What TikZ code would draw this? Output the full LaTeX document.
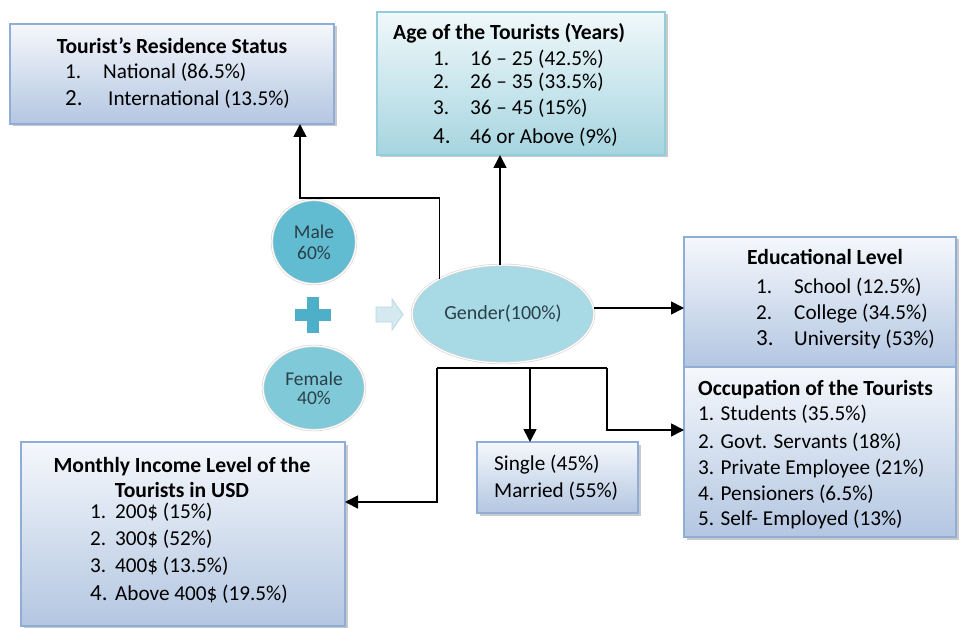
\documentclass[tikz,border=0pt]{standalone}
\usepackage{fontspec}
\setmainfont{Carlito}
\usetikzlibrary{arrows.meta,shadows,calc,shapes.geometric}
\definecolor{blueTop}{HTML}{F5F8FC}
\definecolor{blueBot}{HTML}{B3C6E1}
\definecolor{blueBorder}{HTML}{8FADD6}
\definecolor{tealTop}{HTML}{F0F8FA}
\definecolor{tealBot}{HTML}{A6D5E0}
\definecolor{tealBorder}{HTML}{92CDDC}
\definecolor{maleFill}{HTML}{62BCD1}
\definecolor{femFill}{HTML}{80C9D9}
\definecolor{genFill}{HTML}{A8DAE6}
\definecolor{plusFill}{HTML}{4DAFC8}
\definecolor{arrFill}{HTML}{D4E9F0}
\definecolor{arrDraw}{HTML}{B5D8E3}
\definecolor{circText}{HTML}{2A3F48}
\begin{document}
\begin{tikzpicture}[x=1pt,y=-1pt,
  panel/.style={draw=blueBorder, line width=1.3, top color=blueTop, bottom color=blueBot,
    anchor=north west, inner sep=0, outer sep=0,
    drop shadow={shadow xshift=2.5pt, shadow yshift=-2.5pt, fill=gray!70, opacity=0.6}},
  tealpanel/.style={panel, draw=tealBorder, top color=tealTop, bottom color=tealBot},
  txt/.style={inner sep=0, anchor=base west, font=\fontsize{21.2}{24}\selectfont},
  bignum/.style={txt, font=\fontsize{23}{24}\selectfont},
  ttl/.style={inner sep=0, anchor=base, font=\fontsize{21.6}{24}\selectfont\bfseries},
  circ/.style={circle, draw=gray!35, double=white, double distance=1.2pt, line width=0.6,
    inner sep=0, outer sep=0, text=circText, align=center, font=\fontsize{19.5}{21}\selectfont},
  line/.style={draw=black, line width=1.6},
  conn/.style={line, -{Triangle[length=13pt,width=13pt]}}
]
\useasboundingbox (0,0) rectangle (960,628);

% ---- boxes ----
\node[panel, minimum width=324, minimum height=100] (res) at (10,24) {};
\node[tealpanel, minimum width=288, minimum height=143] (age) at (377,12) {};
\node[panel, minimum width=272, minimum height=130] (edu) at (684,237) {};
\node[panel, minimum width=272, minimum height=170] (occ) at (684,367) {};
\node[panel, minimum width=324, minimum height=184] (inc) at (21,442) {};
\node[panel, minimum width=161, minimum height=71] (sing) at (477,442) {};

% ---- circles and gender ----
\node[circ, fill=maleFill, minimum size=84] (male) at (314,242) {Male\\60\%};
\node[ellipse, draw=gray!35, double=white, double distance=1.2pt, line width=0.6, fill=femFill,
  minimum width=102, minimum height=84,
  inner sep=0, outer sep=0, text=circText, align=center, font=\fontsize{19.5}{19}\selectfont]
  (fem) at (314,388) {Female\\40\%};
\node[ellipse, draw=gray!35, double=white, double distance=1.2pt, line width=0.6, fill=genFill,
  minimum width=182, minimum height=98,
  inner sep=0, outer sep=0, text=circText, font=\fontsize{20}{22}\selectfont]
  (gen) at (503,314) {Gender(100\%)};

% plus sign
\fill[plusFill] (295,309) rectangle (331,321);
\fill[plusFill] (307,297) rectangle (319,333);
% light block arrow
\filldraw[fill=arrFill, draw=arrDraw, line width=0.8]
  (376,307) -- (392,307) -- (392,299) -- (403,314.5) -- (392,330) -- (392,322) -- (376,322) -- cycle;

% ---- texts ----
% residence
\node[ttl] (resT) at (172,54) {Tourist’s Residence Status};
\node[txt] (res1n) at (65,79) {1.};
\node[txt] (res1t) at (103,79) {National (86.5\%)};
\node[bignum] (res2n) at (65,106) {2.};
\node[txt] (res2t) at (108,106) {International (13.5\%)};
% age
\node[ttl, anchor=base west] (ageT) at (393,40) {Age of the Tourists (Years)};
\node[txt] (age1n) at (433,66) {1.};
\node[txt] (age1t) at (470,66) {16 – 25 (42.5\%)};
\node[txt] (age2n) at (433,89) {2.};
\node[txt] (age2t) at (470,89) {26 – 35 (33.5\%)};
\node[txt] (age3n) at (433,115) {3.};
\node[txt] (age3t) at (470,115) {36 – 45 (15\%)};
\node[bignum] (age4n) at (433,144) {4.};
\node[txt] (age4t) at (470,144) {46 or Above (9\%)};
% education
\node[ttl] (eduT) at (825,264) {Educational Level};
\node[txt] (edu1n) at (756,293) {1.};
\node[txt] (edu1t) at (794,293) {School (12.5\%)};
\node[txt] (edu2n) at (756,319) {2.};
\node[txt] (edu2t) at (794,319) {College (34.5\%)};
\node[bignum] (edu3n) at (756,345) {3.};
\node[txt] (edu3t) at (794,345) {University (53\%)};
% occupation
\node[ttl, anchor=base west] (occT) at (698,395) {Occupation of the Tourists};
\node[txt] (occ1) at (698,420) {1. Students (35.5\%)};
\node[txt] (occ2) at (698,448) {2. Govt. Servants (18\%)};
\node[txt] (occ3) at (698,474) {3. Private Employee (21\%)};
\node[txt] (occ4) at (698,500) {4. Pensioners (6.5\%)};
\node[txt] (occ5) at (698,525) {5. Self- Employed (13\%)};
% income
\node[ttl] (incT1) at (182,472) {Monthly Income Level of the};
\node[ttl] (incT2) at (182,497) {Tourists in USD};
\node[txt] (inc1n) at (90,518) {1.};
\node[txt] (inc1t) at (115,518) {200\$ (15\%)};
\node[txt] (inc2n) at (90,545) {2.};
\node[txt] (inc2t) at (115,545) {300\$ (52\%)};
\node[txt] (inc3n) at (90,572) {3.};
\node[txt] (inc3t) at (115,572) {400\$ (13.5\%)};
\node[bignum] (inc4n) at (90,600) {4.};
\node[txt] (inc4t) at (115,600) {Above 400\$ (19.5\%)};
% single / married
\node[txt] (sing1) at (494,470) {Single (45\%)};
\node[txt] (sing2) at (494,497) {Married (55\%)};

% ---- connectors ----
\coordinate (xres) at (300,0);
\coordinate (yres) at (0,198);
\coordinate (xage) at (500,0);
\coordinate (yedu) at (0,308);
\coordinate (bL) at (437,368);
\coordinate (bS) at (530,368);
\coordinate (bR) at (607,368);
\coordinate (yinc) at (0,502);
\coordinate (yocc) at (0,430);

\draw[conn] (gen.151) -- (gen.151 |- yres) -| (res.south -| xres);
\draw[conn] (gen.north -| xage) -- (age.south -| xage);
\draw[conn] (gen.east |- yedu) -- (edu.west |- yedu);
\draw[line] (bL) -- (bR);
\draw[conn] (bL) |- (inc.east |- yinc);
\draw[conn] (bS) -- (sing.north -| bS);
\draw[conn] (bR) |- (occ.west |- yocc);
\end{tikzpicture}
\end{document}
